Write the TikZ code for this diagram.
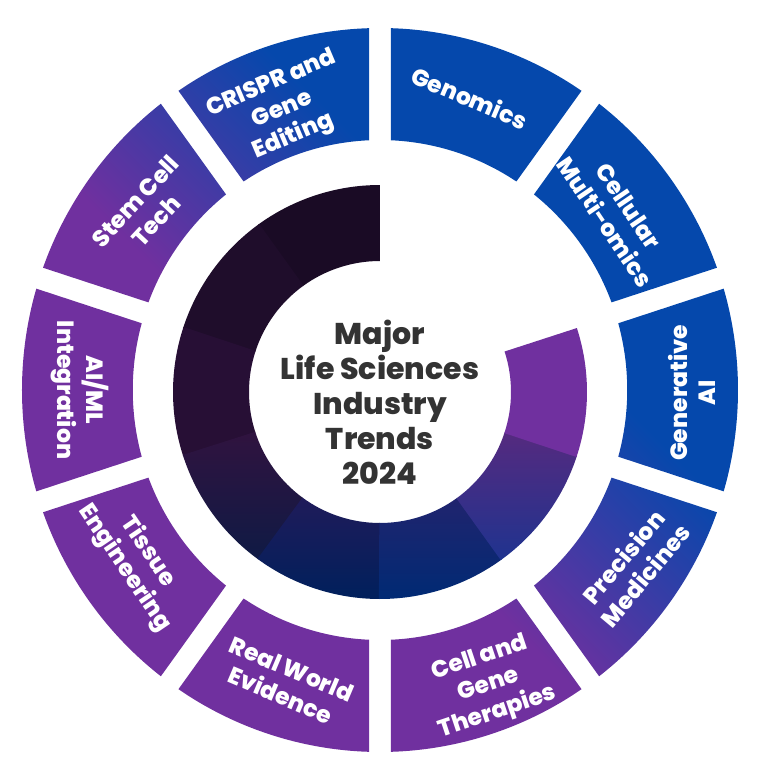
\documentclass[tikz,border=0pt]{standalone}
\usepackage{fontspec}
\setmainfont{Poppins}[BoldFont={Poppins ExtraBold}]
\usepackage{xcolor}
\definecolor{segblue}{HTML}{0548AC}
\definecolor{segpurple}{HTML}{70309F}
\definecolor{centertext}{HTML}{333333}
\definecolor{ringAt}{HTML}{1A0B25}\definecolor{ringAb}{HTML}{1A0B25}
\definecolor{ringBt}{HTML}{1F0D2B}\definecolor{ringBb}{HTML}{1F0D2B}
\definecolor{ringCt}{HTML}{270F35}\definecolor{ringCb}{HTML}{270F35}
\definecolor{ringDt}{HTML}{30133F}\definecolor{ringDb}{HTML}{0F1A45}
\definecolor{ringEt}{HTML}{1F1B5A}\definecolor{ringEb}{HTML}{00205C}
\definecolor{ringFt}{HTML}{20246E}\definecolor{ringFb}{HTML}{002A74}
\definecolor{ringGt}{HTML}{552A7F}\definecolor{ringGb}{HTML}{1F338F}
\definecolor{ringHt}{HTML}{70309F}\definecolor{ringHb}{HTML}{70309F}
\pgfdeclareverticalshading{segfade}{100bp}{color(0bp)=(segpurple); color(45bp)=(segpurple); color(61bp)=(segblue); color(100bp)=(segblue)}
\usetikzlibrary{
  positioning
}

\begin{document}
\begin{tikzpicture}[x=1pt, y=1pt,
    seglabel/.style={text=white, font=\fontsize{23.5}{28.5}\selectfont\bfseries, align=center, inner sep=0pt},
    title/.style={text=centertext, font=\fontsize{30}{35}\selectfont\bfseries, align=center, inner sep=0pt}]
\useasboundingbox (-380,-390) rectangle (386,390);

% outer segments, one fade across all of them
\begin{scope}
\clip[xscale=0.989] \foreach \a in {72,36,0,-36,-72,-108,-144,180,144,108} {
  ({\a+16.26}:362) arc[start angle=\a+16.26, end angle=\a-16.26, radius=362pt]
  -- ({\a-15.48}:250) arc[start angle=\a-15.48, end angle=\a+15.48, radius=250pt] -- cycle
};
\shade[shading=segfade, shading angle=-45] (-370,-370) rectangle (370,370);
\end{scope}

\foreach \i/\a/\r/\rot/\txt in {
    genomics/72.9/306/-23/{Genomics},
    multiomics/36.6/295/-56/{Cellular\\Multi-omics},
    generative/-0.5/312/90/{Generative\\AI},
    precision/-34.7/309/50/{Precision\\Medicines},
    therapies/-69.8/315/18.5/{Cell and\\Gene\\Therapies},
    evidence/-107.8/307/-23/{Real World\\Evidence},
    tissue/-145.1/297/-56/{Tissue\\Engineering},
    aiml/180/300/-90/{AI/ML\\Integration},
    stemcell/142.6/295/47/{Stem Cell\\Tech},
    crispr/109.2/296/23/{CRISPR and\\Gene\\Editing}}
  \node (\i) at (\a:\r) [seglabel, rotate=\rot] {\txt};

% inner ring
\begin{scope}[yshift=-2pt]
\foreach \a/\n/\e in {108/A/90,144/B/125.7,180/C/161.7,216/D/197.7,252/E/233.7,288/F/269.7,324/G/305.7,360/H/341.7}
  \shade[top color=ring\n t, bottom color=ring\n b]
    ({\a+18}:207) arc[start angle=\a+18, end angle=\e, radius=207pt]
    -- (\e:131) arc[start angle=\e, end angle=\a+18, radius=131pt] -- cycle;
\node (trends) at (0,-10) [title] {Major\\Life Sciences\\Industry\\Trends\\2024};
\end{scope}
\end{tikzpicture}
\end{document}
